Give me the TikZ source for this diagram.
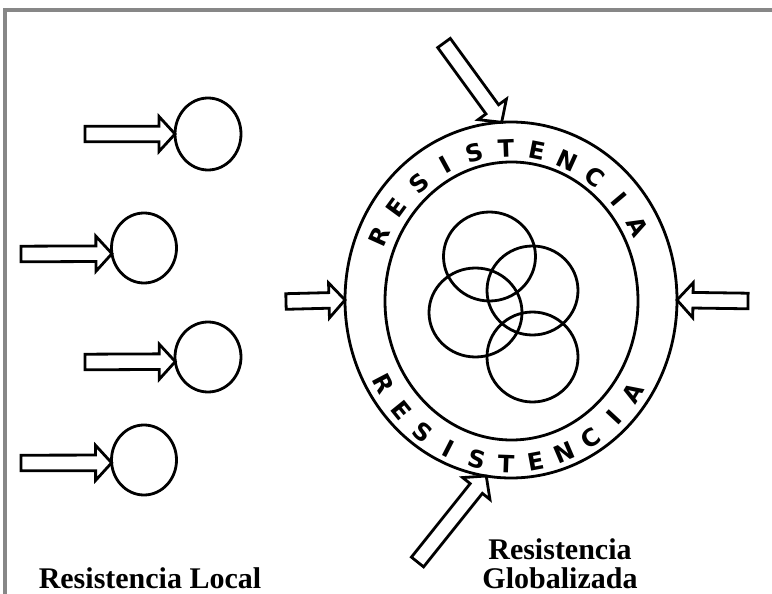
\documentclass[tikz,border=0pt]{standalone}
\usepackage{fontspec}
\setmainfont{Liberation Serif}
\newfontfamily\arcfont{DejaVu Sans}
\newfontfamily\labelfont{Liberation Serif}
\usetikzlibrary{shapes.geometric,calc}

% hollow block arrow from #1 (tail) to #2 (tip); #3 names the head base
\newcommand\blockarrow[3]{%
  \coordinate (#3h) at ($(#2)!16pt!(#1)$);
  \draw[blockarrow]
    ($(#1)!7.8pt!90:(#2)$) -- ($(#3h)!7.8pt!90:(#2)$) -- ($(#3h)!17.5pt!90:(#2)$)
    -- (#2) -- ($(#3h)!17.5pt!-90:(#2)$) -- ($(#3h)!7.8pt!-90:(#2)$)
    -- ($(#1)!7.8pt!-90:(#2)$) -- cycle;
}

\begin{document}
\begin{tikzpicture}[x=1pt,y=-1pt,
  ink/.style={line width=2.8pt, draw=black},
  ball/.style={ellipse, ink, inner sep=0pt, outer sep=0pt},
  blockarrow/.style={ink, fill=white, line join=miter, miter limit=10},
  arcletter/.style={font=\arcfont\bfseries\fontsize{24}{24}\selectfont, inner sep=0pt, anchor=center},
  caption/.style={font=\labelfont\bfseries\fontsize{30}{29}\selectfont, align=center, inner sep=0pt}
]
\useasboundingbox (0,0) rectangle (772,594);

% page frame
\draw[line width=3.3pt, draw={rgb,255:red,135;green,135;blue,135}] (5,620) -- (5,10) -- (800,10);

% local resistance: four separate cells
\node[ball, minimum width=66pt, minimum height=72pt] (c1) at (208,134) {};
\node[ball, minimum width=65pt, minimum height=70pt] (c2) at (144,248) {};
\node[ball, minimum width=66pt, minimum height=70pt] (c3) at (208,357) {};
\node[ball, minimum width=65pt, minimum height=70pt] (c4) at (144,460) {};

\coordinate (t1) at (85,134);
\coordinate (t2) at (21,254);
\coordinate (t3) at (85,362);
\coordinate (t4) at (21,463);
\blockarrow{t1}{c1.west}{a1}
\blockarrow{t2}{c2.190}{a2}
\blockarrow{t3}{c3.188}{a3}
\blockarrow{t4}{c4.185}{a4}

% globalized resistance: ring around linked cells
\node[ball, minimum width=332pt, minimum height=356pt] (outer) at (511,300) {};
\node[ball, minimum width=253pt, minimum height=278pt] (inner) at (511.5,301) {};

\node[ball, minimum width=92pt, minimum height=89pt] (g1) at (489.5,256.5) {};
\node[ball, minimum width=91pt, minimum height=89pt] (g2) at (532.5,290.5) {};
\node[ball, minimum width=93pt, minimum height=89pt] (g3) at (475.5,312.5) {};
\node[ball, minimum width=91pt, minimum height=90pt] (g4) at (532.5,357) {};

% lettering inside the ring
\foreach \ch [count=\i from 0] in {R,E,S,I,S,T,E,N,C,I,A} {
  \pgfmathsetmacro\ang{154-12.4*\i}
  \pgfmathsetmacro\rot{atan2(-158*cos(\ang),146*sin(\ang))}
  \node[arcletter, rotate=\rot] (up\i) at ({511+146*cos(\ang)},{306-158*sin(\ang)}) {\ch};
}
\foreach \ch [count=\i from 0] in {R,E,S,I,S,T,E,N,C,I,A} {
  \pgfmathsetmacro\ang{209.5+11.72*\i}
  \pgfmathsetmacro\rot{atan2(158*cos(\ang),-146*sin(\ang))}
  \node[arcletter, rotate=\rot] (lo\i) at ({511+146*cos(\ang)},{306-158*sin(\ang)}) {\ch};
}

% pressure on the ring
\coordinate (tl) at (286,301.5);
\coordinate (tr) at (748,301);
\coordinate (tt) at (444,43);
\coordinate (tb) at (417.5,562);
\blockarrow{tl}{outer.west}{al}
\blockarrow{tr}{outer.east}{ar}
\blockarrow{tt}{outer.93}{at}
\blockarrow{tb}{outer.262}{ab}

% captions
\node[caption] (local) at (150,578) {Resistencia Local};
\node[caption] (global) at (560,564) {Resistencia\\Globalizada};
\end{tikzpicture}
\end{document}
